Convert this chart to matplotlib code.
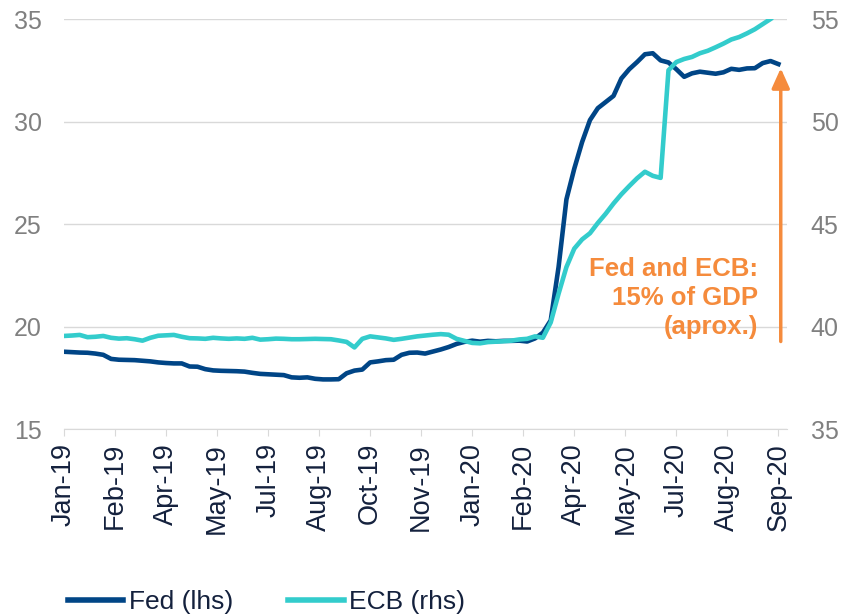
import matplotlib
matplotlib.use("Agg")

import matplotlib.pyplot as plt
import numpy as np

plt.rcParams["font.family"] = ["Liberation Sans", "DejaVu Sans"]

# weekly balance sheets, % of GDP
fed = [18.77, 18.75, 18.73, 18.72, 18.68, 18.62, 18.42, 18.38, 18.37, 18.36,
       18.33, 18.30, 18.25, 18.22, 18.20, 18.20, 18.05, 18.04, 17.92, 17.86,
       17.84, 17.83, 17.82, 17.80, 17.74, 17.69, 17.67, 17.65, 17.63, 17.52,
       17.50, 17.52, 17.45, 17.42, 17.42, 17.43, 17.72, 17.85, 17.90, 18.25,
       18.30, 18.36, 18.38, 18.62, 18.72, 18.73, 18.68, 18.78, 18.88, 19.00,
       19.15, 19.25, 19.31, 19.26, 19.30, 19.28, 19.30, 19.30, 19.31, 19.27,
       19.42, 19.70, 20.30, 22.90, 26.20, 27.70, 29.00, 30.07, 30.65, 30.95,
       31.25, 32.10, 32.55, 32.90, 33.28, 33.33, 32.98, 32.88, 32.55, 32.18,
       32.35, 32.43, 32.38, 32.33, 32.40, 32.57, 32.52, 32.59, 32.60, 32.85,
       32.95, 32.80]

ecb = [39.54, 39.56, 39.59, 39.48, 39.50, 39.54, 39.45, 39.41, 39.43, 39.38,
       39.31, 39.45, 39.55, 39.57, 39.59, 39.50, 39.43, 39.42, 39.40, 39.45,
       39.42, 39.40, 39.42, 39.40, 39.45, 39.36, 39.38, 39.41, 39.40, 39.38,
       39.38, 39.39, 39.40, 39.39, 39.38, 39.32, 39.25, 38.98, 39.40, 39.52,
       39.47, 39.42, 39.35, 39.40, 39.46, 39.52, 39.56, 39.60, 39.63, 39.60,
       39.40, 39.30, 39.20, 39.18, 39.24, 39.26, 39.28, 39.31, 39.37, 39.40,
       39.52, 39.45, 40.20, 41.60, 42.90, 43.80, 44.25, 44.55, 45.05, 45.50,
       46.00, 46.45, 46.85, 47.23, 47.55, 47.35, 47.25, 52.50, 52.90, 53.05,
       53.15, 53.33, 53.45, 53.62, 53.80, 54.00, 54.12, 54.30, 54.50, 54.75,
       55.00]

tick_labels = ["Jan-19", "Feb-19", "Apr-19", "May-19", "Jul-19", "Aug-19",
               "Oct-19", "Nov-19", "Jan-20", "Feb-20", "Apr-20", "May-20",
               "Jul-20", "Aug-20", "Sep-20"]

FED_C = "#004586"
ECB_C = "#33CCCC"
ORANGE = "#F58B3C"
GRID = "#d9d9d9"
GREY = "#808080"
NAVY = "#14213d"

fig = plt.figure(figsize=(8.44, 6.15), dpi=100)
ax = fig.add_axes([0.0758, 0.3024, 0.8567, 0.6667])
ax2 = ax.twinx()

l1, = ax.plot(np.arange(len(fed)), fed, color=FED_C, lw=3.3, label="Fed (lhs)")
l2, = ax2.plot(np.arange(len(ecb)), ecb, color=ECB_C, lw=3.3, label="ECB (rhs)")

ax.set_xlim(0, 92.1)
ax.set_ylim(15, 35)
ax2.set_ylim(35, 55)
ax.set_yticks(np.arange(15, 36, 5))
ax2.set_yticks(np.arange(35, 56, 5))

ax.set_xticks(np.arange(len(tick_labels)) * 6.5)
ax.set_xticklabels(tick_labels, rotation=90)

ax.grid(axis="y", color=GRID, lw=1)
ax.set_axisbelow(True)
for a in (ax, ax2):
    for s in ("top", "left", "right"):
        a.spines[s].set_visible(False)
    a.spines["bottom"].set_color(GRID)
ax2.spines["bottom"].set_visible(False)

ax.tick_params(axis="y", length=0, labelsize=18, labelcolor=GREY, pad=16)
ax2.tick_params(axis="y", length=0, labelsize=18, labelcolor=GREY, pad=17)
ax.tick_params(axis="x", length=5, color=GRID, labelsize=19.5,
               labelcolor=NAVY, pad=5)

# arrow: from pre-covid Fed level to latest Fed level
x_arrow = len(fed) - 1 + 0.3
ax.annotate("", xy=(x_arrow, fed[-1] - 0.2), xytext=(x_arrow, fed[59]),
            arrowprops=dict(arrowstyle="-|>,head_length=0.4,head_width=0.18",
                            color=ORANGE, lw=2.5, mutation_scale=30,
                            shrinkA=0, shrinkB=0))
ax.text(0.96, 0.3195, "Fed and ECB:\n15% of GDP\n(aprox.)",
        transform=ax.transAxes, ha="right", va="center", ma="right",
        fontsize=18.5, fontweight="bold", color=ORANGE, linespacing=1.25)

fig.legend(handles=[l1, l2], loc="center left", bbox_to_anchor=(0.0806, 0.021),
           ncol=2, frameon=False, fontsize=19, handlelength=2.1,
           handletextpad=0.2, columnspacing=2.1, labelcolor=NAVY,
           borderaxespad=0, borderpad=0)
for line in fig.legends[0].get_lines():
    line.set_linewidth(4)

plt.savefig("out.png", dpi=100)
plt.close()
